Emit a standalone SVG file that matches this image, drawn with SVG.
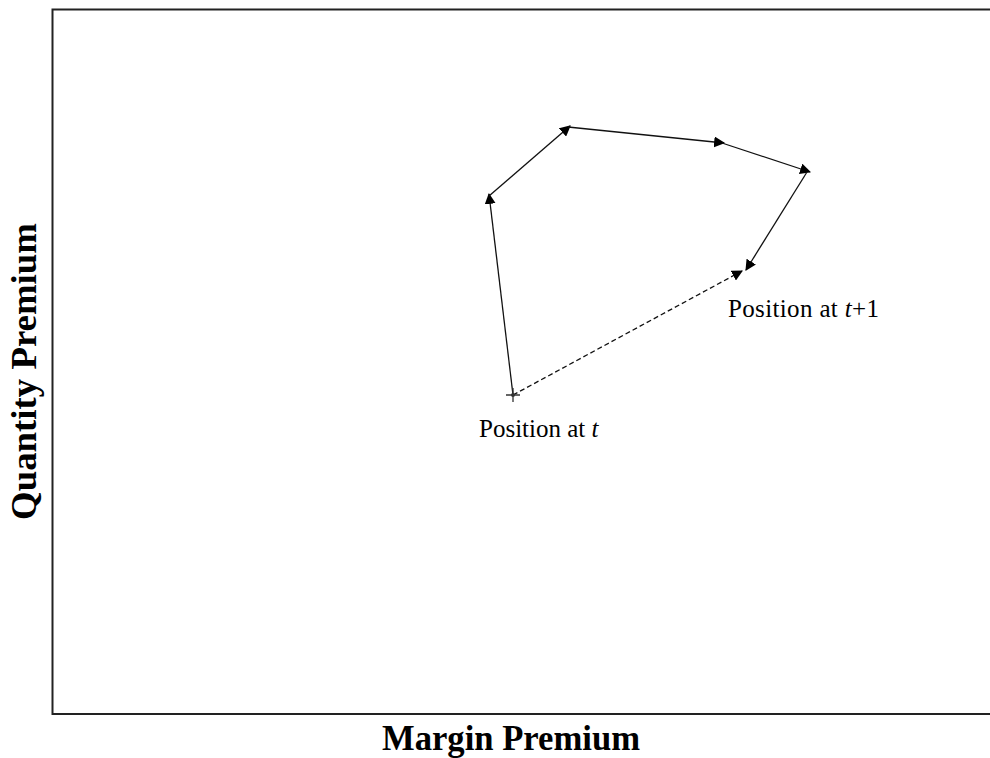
<svg xmlns="http://www.w3.org/2000/svg" width="990" height="758" viewBox="0 0 990 758">
<style>
.frame{fill:none;stroke:#222;stroke-width:2}
.conn{stroke:#111;stroke-width:1.3;fill:none}
.dash{stroke-dasharray:5,3}
.lab{font-family:"Liberation Serif",serif;font-size:25px;fill:#000}
.ax{font-family:"Liberation Serif",serif;font-size:35px;font-weight:bold;fill:#000}
</style>
<defs>
<marker id="ah" viewBox="0 0 10 10" refX="9" refY="5" markerWidth="11" markerHeight="11" markerUnits="userSpaceOnUse" orient="auto">
<path d="M0,0 L10,5 L0,10 z" fill="#000"/>
</marker>
</defs>
<rect width="990" height="758" fill="#fff"/>
<path class="frame" d="M992,9.5 H52.5 V714 H992"/>
<g id="connectors">
<line class="conn" x1="513" y1="395" x2="489" y2="194" marker-end="url(#ah)"/>
<line class="conn" x1="489" y1="196" x2="570" y2="126" marker-end="url(#ah)"/>
<line class="conn" x1="568" y1="127" x2="724" y2="143" marker-end="url(#ah)"/>
<line class="conn" x1="722" y1="143" x2="810" y2="172" marker-end="url(#ah)"/>
<line class="conn" x1="807" y1="172" x2="746" y2="270" marker-end="url(#ah)"/>
<line class="conn dash" x1="513" y1="395" x2="742" y2="271" marker-end="url(#ah)"/>
</g>
<g id="start">
<path d="M513,388 V402 M506,395 H520" stroke="#333" stroke-width="1.3"/>
<circle cx="513" cy="395" r="2" fill="#333"/>
<text class="lab" x="479" y="437">Position at <tspan font-style="italic">t</tspan></text>
</g>
<g id="end">
<text class="lab" x="728" y="317" textLength="151" lengthAdjust="spacing">Position at <tspan font-style="italic">t</tspan>+1</text>
</g>
<g id="xaxis"><text class="ax" x="382" y="750" textLength="258" lengthAdjust="spacingAndGlyphs">Margin Premium</text></g>
<g id="yaxis"><text class="ax" transform="translate(36,520) rotate(-90)" textLength="297" lengthAdjust="spacingAndGlyphs">Quantity Premium</text></g>
</svg>
